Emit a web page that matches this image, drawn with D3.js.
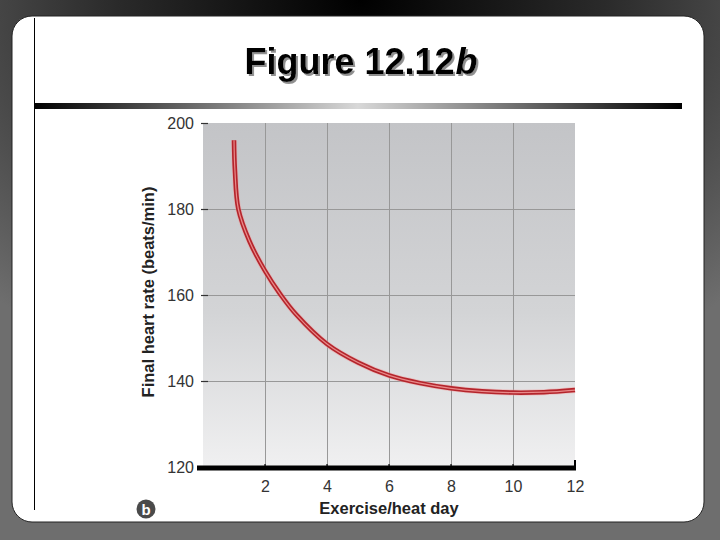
<!DOCTYPE html>
<html><head><meta charset="utf-8">
<script src="https://cdn.jsdelivr.net/npm/d3@7"></script>
<style>html,body{margin:0;padding:0;background:#555;}svg{display:block;}</style>
</head><body>
<script>
const days = [1, 1.03, 1.14, 1.5, 2, 2.5, 3, 4, 5, 6, 7, 8, 9, 10, 11, 12];
const heartRate = [196, 189, 180, 172.5, 165.6, 160.1, 155.5, 148.6, 144.3, 141.3, 139.5, 138.3, 137.6, 137.3, 137.4, 137.9];
const xTicks = [2, 4, 6, 8, 10, 12];
const yTicks = [120, 140, 160, 180, 200];
const title = "Figure 12.12";
const titleItalic = "b";
const xLabel = "Exercise/heat day";
const yLabel = "Final heart rate (beats/min)";

const W = 720, H = 540;
const svg = d3.select("body").append("svg").attr("width", W).attr("height", H);
const defs = svg.append("defs");

const bg = defs.append("radialGradient").attr("id","bg").attr("cx","50%").attr("cy","0%").attr("r","75%");
bg.append("stop").attr("offset","0%").attr("stop-color","#000");
bg.append("stop").attr("offset","45%").attr("stop-color","#2a2a2a");
bg.append("stop").attr("offset","100%").attr("stop-color","#6e6e6e");
svg.append("rect").attr("width",W).attr("height",H).attr("fill","url(#bg)");

// panel
svg.append("rect").attr("x",12).attr("y",16).attr("width",692).attr("height",506)
  .attr("rx",20).attr("fill","#fff").attr("stroke","#222").attr("stroke-width",1);
svg.append("line").attr("x1",34.5).attr("x2",34.5).attr("y1",18).attr("y2",510).attr("stroke","#000").attr("stroke-width",1);

// title bar gradient
const bar = defs.append("linearGradient").attr("id","bar");
bar.append("stop").attr("offset","0%").attr("stop-color","#000");
bar.append("stop").attr("offset","50%").attr("stop-color","#d8d8d8");
bar.append("stop").attr("offset","100%").attr("stop-color","#000");
svg.append("rect").attr("x",34).attr("y",103).attr("width",648).attr("height",6).attr("fill","url(#bar)");

// title with shadow filter, condensed via horizontal scale
const sh = defs.append("filter").attr("id","sh").attr("x","-10%").attr("y","-20%").attr("width","130%").attr("height","150%");
sh.append("feDropShadow").attr("dx",2).attr("dy",2).attr("stdDeviation",0.3).attr("flood-color","#8f8f8f").attr("flood-opacity",1);
const tg = svg.append("g");
const t = tg.append("text").attr("x",0).attr("y",0).attr("text-anchor","middle")
  .attr("font-family","'Liberation Sans',Arial,sans-serif")
  .attr("font-weight","bold").attr("font-size",37).attr("fill","#000").attr("filter","url(#sh)");
t.append("tspan").text(title);
t.append("tspan").attr("font-style","italic").attr("dx",1).text(titleItalic);
const tw = t.node().getComputedTextLength();
tg.attr("transform",`translate(361,74) scale(${232/tw},1)`);

// plot
const x = d3.scaleLinear().domain([0,12]).range([203,575]);
const y = d3.scaleLinear().domain([120,200]).range([467,123]);

const pg = defs.append("linearGradient").attr("id","pg").attr("x1",0).attr("y1",0).attr("x2",0).attr("y2",1);
pg.append("stop").attr("offset","0%").attr("stop-color","#c3c4c7");
pg.append("stop").attr("offset","55%").attr("stop-color","#d3d4d6");
pg.append("stop").attr("offset","100%").attr("stop-color","#f0f0f1");
svg.append("rect").attr("x",x(0)).attr("y",y(200)).attr("width",x(12)-x(0)).attr("height",y(120)-y(200)).attr("fill","url(#pg)");

const grid = svg.append("g").attr("stroke","#989898").attr("stroke-width",1);
grid.selectAll(".vx").data(xTicks.slice(0,-1)).join("line")
  .attr("x1",d=>Math.round(x(d))+0.5).attr("x2",d=>Math.round(x(d))+0.5).attr("y1",y(200)).attr("y2",y(120));
grid.selectAll(".hy").data(yTicks.filter(d=>d>120&&d<200)).join("line")
  .attr("x1",x(0)).attr("x2",x(12)).attr("y1",d=>Math.round(y(d))+0.5).attr("y2",d=>Math.round(y(d))+0.5);

// y axis
const yAxis = d3.axisLeft(y).tickValues(yTicks).tickSize(7).tickPadding(7);
const ya = svg.append("g").attr("transform",`translate(${x(0)+5},0)`).call(yAxis);
ya.select(".domain").remove();
ya.selectAll(".tick line").attr("stroke","#333").attr("stroke-width",1.2);
ya.selectAll(".tick text").attr("font-family","'Liberation Sans',Arial,sans-serif").attr("font-size",16).attr("fill","#333");

// x axis
const xAxis = d3.axisBottom(x).tickValues(xTicks).tickSize(0).tickPadding(14);
const xa = svg.append("g").attr("transform",`translate(0,${y(120)})`).call(xAxis);
xa.select(".domain").remove();
xa.selectAll(".tick text").attr("font-family","'Liberation Sans',Arial,sans-serif").attr("font-size",16).attr("fill","#333");
svg.append("line").attr("x1",x(0)-6).attr("x2",x(12)+1).attr("y1",y(120)+1).attr("y2",y(120)+1).attr("stroke","#000").attr("stroke-width",5);
svg.selectAll(".xt").data(xTicks).join("line")
  .attr("x1",d=>x(d)).attr("x2",d=>x(d)).attr("y1",d=>d===12?y(120)-7:y(120)-3).attr("y2",y(120)+1)
  .attr("stroke","#000").attr("stroke-width",d=>d===12?2:1.2);

// labels
svg.append("text").attr("transform",`translate(154,292) rotate(-90)`).attr("text-anchor","middle")
  .attr("font-family","'Liberation Sans',Arial,sans-serif").attr("font-weight","bold").attr("font-size",16.5).attr("fill","#222").text(yLabel);
svg.append("text").attr("x",389).attr("y",514).attr("text-anchor","middle")
  .attr("font-family","'Liberation Sans',Arial,sans-serif").attr("font-weight","bold").attr("font-size",16.5).attr("fill","#222").text(xLabel);

// b badge
svg.append("circle").attr("cx",146).attr("cy",509).attr("r",9.5).attr("fill","#4a4a4a");
svg.append("text").attr("x",146).attr("y",514.5).attr("text-anchor","middle")
  .attr("font-family","'Liberation Sans',Arial,sans-serif").attr("font-weight","bold").attr("font-size",15).attr("fill","#fff").text("b");

// curve
const data = days.map((d,i)=>({d, v: heartRate[i]}));
const line = d3.line().x(p=>x(p.d)).y(p=>y(p.v)).curve(d3.curveCatmullRom.alpha(0.5));
svg.append("path").datum(data).attr("d",line).attr("fill","none").attr("stroke","#f2a0a0").attr("stroke-width",6).attr("stroke-opacity",0.5);
svg.append("path").datum(data).attr("d",line).attr("fill","none").attr("stroke","#b4252c").attr("stroke-width",4.5);
svg.append("path").datum(data).attr("d",line).attr("fill","none").attr("stroke","#e98a8a").attr("stroke-width",1.2);
</script>
</body></html>
